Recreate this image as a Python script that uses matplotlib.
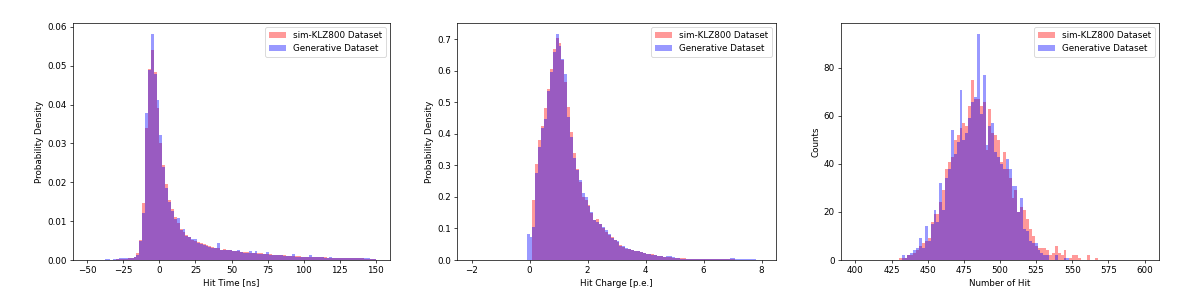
import numpy as np
import matplotlib
matplotlib.use("Agg")
import matplotlib.pyplot as plt

# ---------------- data ----------------
time_range = (-50, 150)
time_nbins = 100
time_sim = [
    0, 0, 0, 0, 0, 0, 0.0001, 0.0001, 0.0001, 0.0001,
    0.0002, 0.0002, 0.0003, 0.0003, 0.0004, 0.0005, 0.0008, 0.0019, 0.0052, 0.0148,
    0.0340, 0.0492, 0.0540, 0.0485, 0.0390, 0.0302, 0.0245, 0.0195, 0.0155, 0.0130,
    0.0110, 0.0095, 0.0081, 0.0072, 0.0064, 0.0058, 0.0052, 0.0048, 0.0046, 0.0043,
    0.0040, 0.0038, 0.0035, 0.0033, 0.0031, 0.0030, 0.0027, 0.0028, 0.0026, 0.0025,
    0.0024, 0.0023, 0.0022, 0.0021, 0.0021, 0.0020, 0.0019, 0.0019, 0.0018, 0.0017,
    0.0017, 0.0016, 0.0015, 0.0016, 0.0014, 0.0013, 0.0013, 0.0012, 0.0012, 0.0011,
    0.0011, 0.0010, 0.0010, 0.0010, 0.0009, 0.0009, 0.0009, 0.0008, 0.0008, 0.0008,
    0.0007, 0.0007, 0.0007, 0.0006, 0.0006, 0.0006, 0.0006, 0.0005, 0.0005, 0.0005,
    0.0005, 0.0004, 0.0004, 0.0004, 0.0004, 0.0004, 0.0003, 0.0003, 0.0003, 0.0002]
time_gen = [
    0, 0, 0, 0, 0, 0, 0.0002, 0.0002, 0.0001, 0.0002,
    0.0003, 0.0004, 0.0004, 0.0005, 0.0004, 0.0005, 0.0007, 0.0012, 0.0050, 0.0120,
    0.0379, 0.0488, 0.0581, 0.0480, 0.0413, 0.0323, 0.0240, 0.0185, 0.0150, 0.0125,
    0.0105, 0.0107, 0.0078, 0.0080, 0.0062, 0.0060, 0.0055, 0.0053, 0.0044, 0.0041,
    0.0038, 0.0036, 0.0033, 0.0032, 0.0030, 0.0045, 0.0026, 0.0027, 0.0025, 0.0026,
    0.0022, 0.0022, 0.0027, 0.0020, 0.0019, 0.0018, 0.0024, 0.0018, 0.0024, 0.0016,
    0.0015, 0.0016, 0.0021, 0.0014, 0.0014, 0.0012, 0.0013, 0.0012, 0.0011, 0.0011,
    0.0010, 0.0015, 0.0009, 0.0009, 0.0009, 0.0008, 0.0008, 0.0013, 0.0008, 0.0007,
    0.0007, 0.0008, 0.0006, 0.0006, 0.0007, 0.0006, 0.0005, 0.0006, 0.0005, 0.0004,
    0.0004, 0.0005, 0.0006, 0.0005, 0.0004, 0.0004, 0.0004, 0.0004, 0.0003, 0.0002]

charge_range = (-2, 8)
charge_nbins = 100
charge_sim = [
    0, 0, 0, 0, 0, 0, 0, 0, 0, 0,
    0, 0, 0, 0, 0, 0, 0, 0, 0, 0,
    0, 0.190, 0.306, 0.382, 0.424, 0.482, 0.544, 0.606, 0.670, 0.705,
    0.688, 0.636, 0.565, 0.484, 0.405, 0.340, 0.290, 0.248, 0.200, 0.190,
    0.174, 0.148, 0.127, 0.129, 0.114, 0.102, 0.090, 0.078, 0.074, 0.064,
    0.058, 0.048, 0.041, 0.036, 0.034, 0.031, 0.028, 0.027, 0.025, 0.022,
    0.020, 0.019, 0.018, 0.016, 0.014, 0.013, 0.011, 0.009, 0.008, 0.007,
    0.006, 0.005, 0.005, 0.005, 0.004, 0.004, 0.004, 0.003, 0.003, 0.003,
    0.003, 0.002, 0.003, 0.002, 0.002, 0.002, 0.002, 0.002, 0.002, 0.002,
    0.002, 0.001, 0.001, 0.001, 0.001, 0.001, 0.001, 0.001, 0, 0]
charge_gen = [
    0, 0, 0, 0, 0, 0, 0, 0, 0, 0,
    0, 0, 0, 0, 0, 0, 0, 0, 0, 0.082,
    0.074, 0.105, 0.275, 0.357, 0.418, 0.446, 0.535, 0.597, 0.660, 0.716,
    0.678, 0.637, 0.590, 0.454, 0.389, 0.322, 0.287, 0.253, 0.213, 0.200,
    0.170, 0.153, 0.127, 0.120, 0.113, 0.106, 0.095, 0.082, 0.069, 0.065,
    0.061, 0.045, 0.043, 0.037, 0.034, 0.031, 0.029, 0.027, 0.025, 0.022,
    0.020, 0.019, 0.017, 0.016, 0.013, 0.012, 0.009, 0.013, 0.013, 0.011,
    0.006, 0.005, 0.004, 0.004, 0.004, 0.004, 0.003, 0.003, 0.003, 0.002,
    0.002, 0.002, 0.002, 0.002, 0.002, 0.002, 0.002, 0.002, 0.004, 0.005,
    0.005, 0.004, 0.002, 0.002, 0.002, 0.002, 0.002, 0.002, 0.001, 0]

nhit_range = (400, 600)
nhit_nbins = 100
nhit_sim = [
    0, 0, 0, 0, 0, 0, 0, 0, 0, 0,
    0, 0, 0, 0, 0, 1, 1, 1, 2, 2,
    3, 4, 6, 7, 8, 9, 16, 19, 19, 24,
    29, 38, 41, 43, 50, 52, 55, 57, 56, 64,
    75, 67, 67, 64, 66, 46, 63, 53, 52, 50,
    41, 45, 38, 34, 26, 29, 20, 22, 21, 17,
    13, 10, 6, 5, 5, 5, 4, 2, 3, 6,
    3, 2, 4, 0, 1, 2, 2, 1, 0, 0,
    2, 0, 0, 1, 0, 0, 0, 0, 0, 0,
    0, 0, 0, 0, 0, 0, 0, 0, 0, 0]
nhit_gen = [
    0, 0, 0, 0, 0, 0, 0, 0, 0, 0,
    0, 0, 0, 0, 0, 0, 2, 1, 2, 3,
    4, 5, 9, 5, 14, 8, 15, 21, 16, 32,
    21, 34, 38, 54, 44, 49, 71, 50, 53, 59,
    66, 68, 94, 61, 77, 48, 56, 57, 45, 43,
    40, 38, 42, 38, 31, 31, 20, 26, 13, 12,
    8, 7, 7, 4, 3, 2, 2, 0, 0, 2,
    0, 0, 1, 1, 0, 0, 0, 0, 0, 0,
    0, 0, 0, 0, 0, 0, 0, 0, 0, 0,
    0, 0, 0, 0, 0, 0, 0, 0, 0, 0]

labels = ["sim-KLZ800 Dataset", "Generative Dataset"]
xlabels = ["Hit Time [ns]", "Hit Charge [p.e.]", "Number of Hit"]
ylabels = ["Probability Density", "Probability Density", "Counts"]

# ---------------- figure ----------------
DPI = 63
fig = plt.figure(figsize=(1196 / DPI, 301 / DPI), dpi=DPI)
W, H = 1196, 301
boxes = [(73, 390), (457, 776), (841, 1159)]
top_px, bot_px = 23, 260

panels = [
    (time_range, time_nbins, time_sim, time_gen),
    (charge_range, charge_nbins, charge_sim, charge_gen),
    (nhit_range, nhit_nbins, nhit_sim, nhit_gen),
]

for k, ((lo, hi), nb, sim, gen) in enumerate(panels):
    l, r = boxes[k]
    ax = fig.add_axes([l / W, (H - bot_px) / H, (r - l) / W, (bot_px - top_px) / H])
    edges = np.linspace(lo, hi, nb + 1)
    centers = 0.5 * (edges[:-1] + edges[1:])
    ax.hist(centers, bins=edges, weights=sim, color="red", alpha=0.4,
            histtype="stepfilled", label=labels[0])
    ax.hist(centers, bins=edges, weights=gen, color="blue", alpha=0.4,
            histtype="stepfilled", label=labels[1])
    ax.set_xlabel(xlabels[k])
    ax.set_ylabel(ylabels[k])
    ax.legend(loc="upper right")

fig.savefig("out.png", dpi=DPI)
